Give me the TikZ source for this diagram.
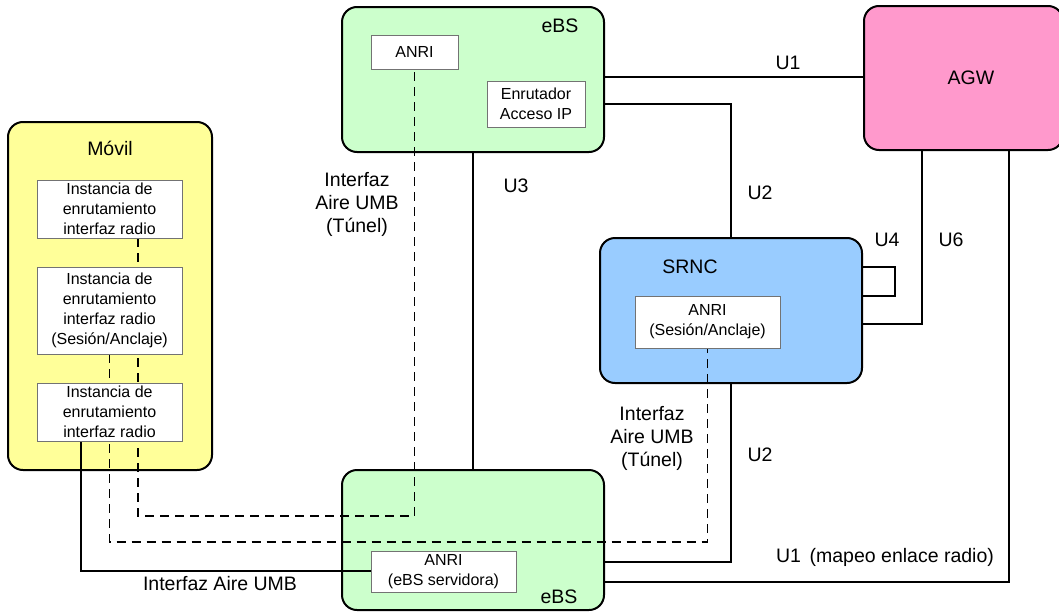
\documentclass[tikz,border=0pt]{standalone}
\usepackage{fontspec}
\setmainfont{Liberation Sans}
\definecolor{movfill}{HTML}{FFFF99}
\definecolor{ebsfill}{HTML}{CCFFCC}
\definecolor{srncfill}{HTML}{99CCFF}
\definecolor{agwfill}{HTML}{FF99CC}
\begin{document}
\begin{tikzpicture}[x=1pt,y=-1pt,
  big/.style={draw=black, line width=2pt, rounded corners=15pt, inner sep=0pt},
  inbox/.style={draw=black!55, line width=0.8pt, fill=white, inner sep=0pt, align=center, font=\fontsize{16}{20}\selectfont},
  lbl/.style={align=center, font=\fontsize{19.5}{23}\selectfont, inner sep=0pt},
  conn/.style={line width=2pt},
  dconn/.style={line width=1.4pt, dash pattern=on 9pt off 6pt}]
\useasboundingbox (0,0) rectangle (1059,613);

% big boxes
\node[big, fill=movfill, minimum width=204pt, minimum height=348pt] (mov) at (110,296) {};
\node[big, fill=ebsfill, minimum width=262pt, minimum height=145pt] (ebsT) at (473,79.5) {};
\node[big, fill=ebsfill, minimum width=262pt, minimum height=140pt] (ebsB) at (473,540) {};
\node[big, fill=srncfill, minimum width=262pt, minimum height=145pt] (srnc) at (731,310.5) {};
\node[big, fill=agwfill, minimum width=199pt, minimum height=144pt] (agw) at (963.5,78) {};

% titles
\node[lbl] (movt) at (110,148) {Móvil};
\node[lbl] (ebsTt) at (560,26) {eBS};
\node[lbl] (ebsBt) at (559,597) {eBS};
\node[lbl] (srnct) at (690,267) {SRNC};
\node[lbl] (agwt) at (971,78) {AGW};

% bend coordinates
\coordinate (u4a) at (895,267);
\coordinate (u4b) at (895,296);
\coordinate (dA) at (138,516);
\coordinate (dB) at (109.5,542);
\coordinate (sC) at (81,571);

% solid connectors
\draw[conn] (ebsT.east |- 0,77) -- (agw.west |- 0,77);
\draw[conn] (ebsT.east |- 0,104) -| (srnc.north);
\draw[conn] (ebsT.south) -- (ebsB.north);
\draw[conn] (srnc.south) |- (ebsB.east |- 0,562);
\draw[conn] (srnc.east |- u4a) -- (u4a) -- (u4b) -- (srnc.east |- u4b);
\draw[conn] (agw.south -| 922,0) |- (srnc.east |- 0,324);
\draw[conn] (agw.south -| 1009,0) |- (ebsB.east |- 0,582);

% inner boxes are placed after; define positions
\path (109.5,209) coordinate (m1c) (109.5,310.5) coordinate (m2c) (109.5,412) coordinate (m3c);

% dashed and Móvil connectors (drawn under inner boxes)
\draw[dconn] (138,238) -- (dA) -| (414.5,69);
\draw[dconn] (dB |- 0,354) -- (dB) -| (707.5,348);
\draw[conn] (sC |- 0,441) -- (sC) -- (371,571);

% inner boxes
\node[inbox, minimum width=145pt, minimum height=58pt] (m1) at (m1c) {Instancia de\\enrutamiento\\interfaz radio};
\node[inbox, minimum width=145pt, minimum height=87pt] (m2) at (m2c) {Instancia de\\enrutamiento\\interfaz radio\\(Sesión/Anclaje)};
\node[inbox, minimum width=145pt, minimum height=58pt] (m3) at (m3c) {Instancia de\\enrutamiento\\interfaz radio};
\node[inbox, minimum width=87pt, minimum height=34pt] (anriT) at (414.5,52) {ANRI};
\node[inbox, minimum width=98pt, minimum height=46pt] (enr) at (536,104) {Enrutador\\Acceso IP};
\node[inbox, minimum width=145pt, minimum height=52pt] (anriS) at (707.5,322) {ANRI\\(Sesión/Anclaje)};
\node[inbox, minimum width=145pt, minimum height=41pt] (anriB) at (443.5,571.5) {ANRI\\(eBS servidora)};

% labels
\node[lbl] (lU1) at (788,63) {U1};
\node[lbl] (lU3) at (516,186) {U3};
\node[lbl] (lU2a) at (760,193) {U2};
\node[lbl] (lU2b) at (760,455) {U2};
\node[lbl] (lU4) at (887,240) {U4};
\node[lbl] (lU6) at (951,240) {U6};
\node[lbl] (lT1) at (357,204) {Interfaz\\Aire UMB\\(Túnel)};
\node[lbl] (lT2) at (652,438) {Interfaz\\Aire UMB\\(Túnel)};
\node[lbl] (lAir) at (220,584) {Interfaz Aire UMB};
\node[lbl] (lRad) at (885,557) {U1\, (mapeo enlace radio)};
\end{tikzpicture}
\end{document}
